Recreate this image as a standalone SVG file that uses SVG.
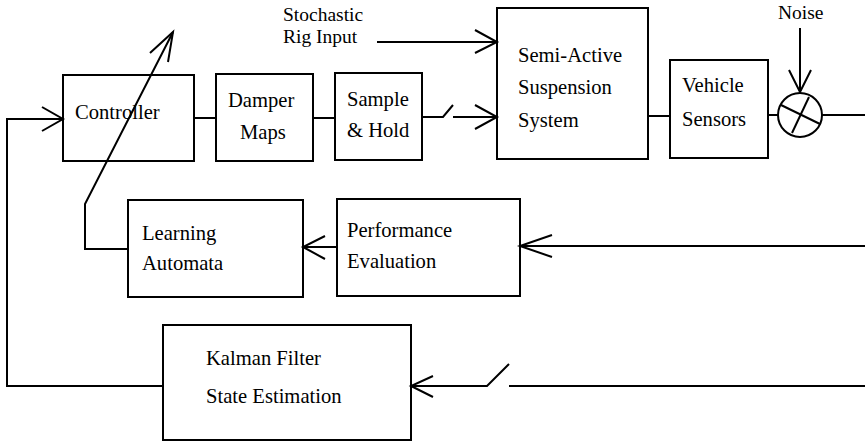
<svg xmlns="http://www.w3.org/2000/svg" width="865" height="443" viewBox="0 0 865 443">
<style>
rect.b{fill:none;stroke:#000;stroke-width:2}
text{font-family:'Liberation Serif','Times New Roman',serif;font-size:20.6px;fill:#000}
.s{font-size:19.5px}
.c{fill:none;stroke:#000;stroke-width:2;stroke-linejoin:miter}
</style>
<rect width="865" height="443" fill="#fff"/>
<g id="connectors">
<polyline class="c" points="194,118 216,118"/>
<polyline class="c" points="313,118 335,118"/>
<polyline class="c" points="422,117 443,117 453,105"/>
<polyline class="c" points="453,117 497,117"/>
<polyline class="c" points="475,105 497,117 475,129"/>
<polyline class="c" points="377,42 497,42"/>
<polyline class="c" points="475,30 497,42 475,53"/>
<polyline class="c" points="648,116 670,116"/>
<polyline class="c" points="768,115 778,115"/>
<polyline class="c" points="822,115 865,115"/>
<polyline class="c" points="800,28 800,92"/>
<polyline class="c" points="789,70 800,92 811,70"/>
<polyline class="c" points="865,246 520,246"/>
<polyline class="c" points="552,235 520,246 552,257"/>
<polyline class="c" points="337,247 303,247"/>
<polyline class="c" points="325,236 303,247 325,259"/>
<polyline class="c" points="128,249 85,249 85,204 173,32"/>
<polyline class="c" points="150,53 173,32 168,62"/>
<polyline class="c" points="865,386 509,386"/>
<polyline class="c" points="509,364 487,386 411,386"/>
<polyline class="c" points="433,376 411,386 433,397"/>
<polyline class="c" points="163,386 7,386 7,119 63,119"/>
<polyline class="c" points="42,107 63,119 42,131"/>
</g>
<g id="controller"><rect class="b" x="63" y="75" width="131" height="86"/><text x="75" y="119">Controller</text></g>
<g id="damper"><rect class="b" x="216" y="74" width="97" height="87"/><text x="228" y="107">Damper</text><text x="240" y="139">Maps</text></g>
<g id="samplehold"><rect class="b" x="335" y="73" width="87" height="87"/><text x="347" y="106">Sample</text><text x="347" y="137">&amp; Hold</text></g>
<g id="stochastic"><text class="s" x="283" y="21">Stochastic</text><text class="s" x="283" y="43">Rig Input</text></g>
<g id="suspension"><rect class="b" x="497" y="8" width="151" height="151"/><text x="518" y="62">Semi-Active</text><text x="518" y="94">Suspension</text><text x="518" y="127">System</text></g>
<g id="sensors"><rect class="b" x="670" y="60" width="98" height="98"/><text x="682" y="92">Vehicle</text><text x="682" y="126">Sensors</text></g>
<g id="noise"><text class="s" x="778" y="19">Noise</text></g>
<g id="summer"><circle cx="800" cy="115" r="22" fill="#fff" stroke="#000" stroke-width="2"/><line class="c" x1="781" y1="105" x2="820" y2="124"/><line class="c" x1="792" y1="133" x2="809" y2="97"/></g>
<g id="learning"><rect class="b" x="128" y="200" width="175" height="97"/><text x="142" y="240">Learning</text><text x="142" y="270">Automata</text></g>
<g id="performance"><rect class="b" x="337" y="199" width="183" height="97"/><text x="347" y="237">Performance</text><text x="347" y="268">Evaluation</text></g>
<g id="kalman"><rect class="b" x="163" y="325" width="248" height="115"/><text x="206" y="365">Kalman Filter</text><text x="206" y="403">State Estimation</text></g>
</svg>
